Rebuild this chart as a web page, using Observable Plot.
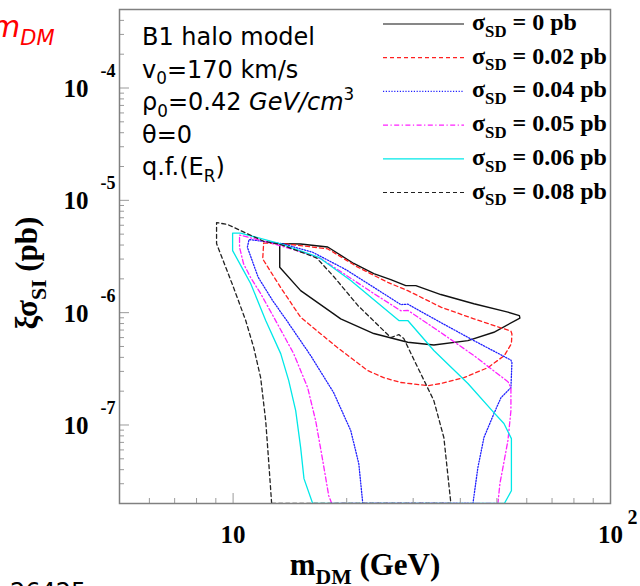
<!DOCTYPE html>
<html>
<head>
<meta charset="utf-8">
<script src="https://cdn.jsdelivr.net/npm/d3@7"></script>
<script src="https://cdn.jsdelivr.net/npm/@observablehq/plot@0.6"></script>
<style>
  html, body { margin: 0; padding: 0; background: #fff; }
  #chart { position: relative; width: 640px; height: 586px; overflow: hidden; }
  #chart svg { position: absolute; left: 0; top: 0; }
</style>
</head>
<body>
<div id="chart"></div>
<script>
// Allowed regions in the (m_DM [GeV], xi*sigma_SI [pb]) plane, one closed contour per sigma_SD
const sd000 = [[13.29,4.12e-6],[15.10,4.08e-6],[17.81,3.84e-6],[20.88,2.74e-6],[23.59,2.23e-6],[26.17,1.97e-6],[28.68,1.74e-6],[30.49,1.74e-6],[35.52,1.45e-6],[43.45,1.20e-6],[53.48,1.01e-6],[57.35,9.42e-7],[57.54,8.95e-7],[49.09,6.69e-7],[41.90,5.64e-7],[34.03,5.15e-7],[29.03,5.45e-7],[23.59,6.52e-7],[19.28,8.81e-7],[18.47,9.75e-7],[15.10,1.57e-6],[13.29,2.54e-6],[13.29,4.12e-6]];
const sd002 = [[12.05,4.17e-6],[13.95,4.08e-6],[17.81,3.70e-6],[21.40,2.54e-6],[25.70,1.86e-6],[29.03,1.57e-6],[35.52,1.12e-6],[43.45,8.81e-7],[54.47,6.85e-7],[54.80,6.45e-7],[54.63,5.30e-7],[52.33,4.15e-7],[47.33,3.24e-7],[40.89,2.64e-7],[35.52,2.34e-7],[32.81,2.24e-7],[27.82,2.39e-7],[25.06,2.64e-7],[22.74,3.05e-7],[18.82,4.94e-7],[15.10,9.10e-7],[13.37,1.67e-6],[11.98,3.01e-6],[12.05,4.17e-6]];
const sd004 = [[22.06,2e-8],[21.53,4.53e-8],[20.50,8.91e-8],[18.47,1.94e-7],[16.05,4.15e-7],[13.87,8.51e-7],[12.73,1.28e-6],[11.65,2.07e-6],[10.91,3.82e-6],[11.02,4.48e-6],[13.53,4.10e-6],[16.25,3.45e-6],[19.88,2.42e-6],[23.59,1.68e-6],[27.82,1.18e-6],[29.03,1.19e-6],[35.52,8.16e-7],[43.45,5.64e-7],[54.47,3.78e-7],[54.80,3.59e-7],[54.47,2.15e-7],[51.25,1.75e-7],[49.09,1.26e-7],[46.19,7.72e-8],[44.52,4.17e-8],[43.20,2e-8],[22.06,2e-8]];
const sd005 = [[18.25,2e-8],[17.92,2.35e-8],[17.28,4.82e-8],[16.55,1.09e-7],[15.76,2.15e-7],[14.47,4.32e-7],[13.05,8.16e-7],[11.83,1.48e-6],[11.13,2.05e-6],[10.66,2.72e-6],[10.40,3.82e-6],[10.40,4.91e-6],[12.35,4.24e-6],[15.10,3.50e-6],[17.07,3.03e-6],[19.28,2.32e-6],[23.59,1.48e-6],[27.82,1.04e-6],[29.03,1.05e-6],[35.52,6.65e-7],[43.45,4.15e-7],[53.48,2.43e-7],[54.47,2.15e-7],[54.47,1.34e-7],[53.48,7.26e-8],[51.87,4.17e-8],[50.93,3.01e-8],[50.31,2e-8],[18.25,2e-8]];
const sd006 = [[16.25,2e-8],[15.41,3.33e-8],[15.10,6.29e-8],[14.65,1.34e-7],[14.04,2.48e-7],[13.37,4.32e-7],[12.20,8.51e-7],[11.13,1.82e-6],[10.66,2.37e-6],[9.97,3.57e-6],[9.97,5.11e-6],[10.47,5.11e-6],[13.37,4.10e-6],[16.86,3.11e-6],[20.50,1.93e-6],[27.49,8.51e-7],[29.03,8.51e-7],[34.03,4.60e-7],[41.90,2.34e-7],[49.09,1.29e-7],[52.20,1.03e-7],[54.63,7.56e-8],[54.63,2.60e-8],[52.33,2e-8],[16.25,2e-8]];
const sd008 = [[12.65,2e-8],[12.42,4.82e-8],[12.20,1.09e-7],[11.83,2.64e-7],[11.34,4.89e-7],[10.80,8.51e-7],[10.03,1.67e-6],[9.04,4.12e-6],[9.04,6.34e-6],[9.67,6.09e-6],[10.47,5.38e-6],[12.05,4.32e-6],[13.37,4.04e-6],[16.05,3.22e-6],[16.66,3.06e-6],[18.47,2.10e-6],[21.40,1.16e-6],[26.17,6.00e-7],[27.49,6.38e-7],[28.33,5.88e-7],[30.86,3.24e-7],[34.03,1.65e-7],[36.18,7.72e-8],[37.76,2e-8],[12.65,2e-8]];

const sdLabels = ["0", "0.02", "0.04", "0.05", "0.06", "0.08"];
const sdContours = [sd000, sd002, sd004, sd005, sd006, sd008];

// Line styles for each sigma_SD
const sdColors = ["#111111", "#ff2020", "#2020ff", "#ff20ff", "#00e8e8", "#222222"];
const sdDashes = [null, "4,3", "1.2,1.6", "5,2.5,1.2,2.5", null, "4,3"];
const sdWidths = [1.4, 1.3, 1.3, 1.3, 1.3, 1.3];

// Axis ticks
const xMajorTicks = [10, 100];
const xMajorText = ["10", "10"];
const xMajorExp = ["", "2"];
const xMinorTicks = [6, 7, 8, 9, 20, 30, 40, 50, 60, 70, 80, 90];
const yMajorTicks = [1e-7, 1e-6, 1e-5, 1e-4];
const yMajorExp = ["-7", "-6", "-5", "-4"];
const yMinorTicks = [2e-8,3e-8,4e-8,5e-8,6e-8,7e-8,8e-8,9e-8,2e-7,3e-7,4e-7,5e-7,6e-7,7e-7,8e-7,9e-7,2e-6,3e-6,4e-6,5e-6,6e-6,7e-6,8e-6,9e-6,2e-5,3e-5,4e-5,5e-5,6e-5,7e-5,8e-5,9e-5,2e-4,3e-4,4e-4];

const W = 640, H = 586;
const mTop = 9, mRight = 30, mBottom = 83, mLeft = 119;
const innerW = W - mLeft - mRight;
const innerH = H - mTop - mBottom;
const serif = "'Liberation Serif', 'DejaVu Serif', serif";
const sans = "'DejaVu Sans', 'Liberation Sans', sans-serif";

const rows = sdContours.flatMap((pts, i) => pts.map(([m, s]) => ({sd: sdLabels[i], m, s})));

const lineMarks = sdLabels.map((lab, i) =>
  Plot.line(rows.filter(d => d.sd === lab), {
    x: "m", y: "s",
    stroke: sdColors[i], strokeWidth: sdWidths[i],
    strokeDasharray: sdDashes[i] ?? undefined,
    clip: true
  })
);

const tickStroke = "#9a9a9a";
const chart = Plot.plot({
  width: W, height: H,
  marginTop: mTop, marginRight: mRight, marginBottom: mBottom, marginLeft: mLeft,
  x: {type: "log", domain: [5, 100], axis: null},
  y: {type: "log", domain: [2e-8, 5e-4], axis: null},
  style: {background: "transparent", overflow: "visible"},
  marks: [
    ...lineMarks,
    Plot.ruleY(yMinorTicks, {y: d => d, insetRight: innerW - 5, stroke: tickStroke}),
    Plot.ruleY(yMajorTicks, {y: d => d, insetRight: innerW - 10, stroke: tickStroke}),
    Plot.ruleX(xMinorTicks, {x: d => d, insetTop: innerH - 5, stroke: tickStroke}),
    Plot.ruleX(xMajorTicks, {x: d => d, insetTop: innerH - 10, stroke: tickStroke}),
    Plot.frame({stroke: "#808080", strokeWidth: 1.5}),
    Plot.text(yMajorTicks, {y: d => d, frameAnchor: "left", text: () => "10",
      textAnchor: "end", lineAnchor: "bottom", dx: -31, dy: 9,
      fontSize: 25, fontWeight: "bold", fontFamily: serif, fill: "#000"}),
    Plot.text(yMajorTicks, {y: d => d, frameAnchor: "left", text: (d, i) => yMajorExp[i],
      textAnchor: "start", lineAnchor: "bottom", dx: -19, dy: -11,
      fontSize: 18, fontWeight: "bold", fontFamily: serif, fill: "#000"}),
    Plot.text(xMajorTicks, {x: d => d, frameAnchor: "bottom", text: (d, i) => xMajorText[i],
      textAnchor: "middle", lineAnchor: "bottom", dy: 39,
      fontSize: 25, fontWeight: "bold", fontFamily: serif, fill: "#000"}),
    Plot.text(xMajorTicks, {x: d => d, frameAnchor: "bottom", text: (d, i) => xMajorExp[i],
      textAnchor: "start", lineAnchor: "bottom", dx: 17, dy: 20,
      fontSize: 20, fontWeight: "bold", fontFamily: serif, fill: "#000"})
  ]
});
document.getElementById("chart").appendChild(chart);

// Annotation layer: titles, model parameters and legend
const svg = d3.select("#chart").append("svg").attr("width", W).attr("height", H);

function rich(parent, x, y, parts, style) {
  const t = parent.append("text").attr("x", x).attr("y", y)
    .attr("font-family", style.family).attr("font-size", style.size)
    .attr("font-weight", style.weight || "normal").attr("fill", style.fill || "#000");
  if (style.anchor) t.attr("text-anchor", style.anchor);
  if (style.transform) t.attr("transform", style.transform);
  let shift = 0;
  for (const p of parts) {
    const target = p.sub ? style.size * 0.28 : p.sup ? -style.size * 0.4 : 0;
    const ts = t.append("tspan").text(p.t).attr("dy", target - shift);
    if (p.sub || p.sup) ts.attr("font-size", style.size * 0.7);
    if (p.italic) ts.attr("font-style", "italic");
    shift = target;
  }
  return t;
}

// Model parameters
const info = [
  [{t: "B1 halo model"}],
  [{t: "v"}, {t: "0", sub: true}, {t: "=170 km/s"}],
  [{t: "\u03c1"}, {t: "0", sub: true}, {t: "=0.42 "}, {t: "GeV/cm", italic: true}, {t: "3", sup: true}],
  [{t: "\u03b8=0"}],
  [{t: "q.f.(E"}, {t: "R", sub: true}, {t: ")"}]
];
info.forEach((parts, i) => rich(svg, 142, 45 + i * 32.5, parts, {family: sans, size: 24}));

// Legend
const legend = svg.append("g");
sdLabels.forEach((lab, i) => {
  const yy = 24 + i * 33.7;
  legend.append("line").attr("x1", 383).attr("x2", 464).attr("y1", yy).attr("y2", yy)
    .attr("stroke", sdColors[i]).attr("stroke-width", 1.2)
    .attr("stroke-dasharray", sdDashes[i]);
  rich(legend, 472, yy + 6,
    [{t: "\u03c3"}, {t: "SD", sub: true}, {t: " = " + lab + " pb"}],
    {family: serif, size: 24, weight: "bold"});
});

// Axis titles
rich(svg, 365, 575, [{t: "m"}, {t: "DM", sub: true}, {t: " (GeV)"}],
  {family: serif, size: 31, weight: "bold", anchor: "middle"});
rich(svg, 0, 0, [{t: "\u03be\u03c3"}, {t: "SI", sub: true}, {t: " (pb)"}],
  {family: serif, size: 31, weight: "bold", anchor: "middle", transform: "translate(37,273) rotate(-90)"});

// Edge labels
rich(svg, -9, 37, [{t: "m"}, {t: "DM", sub: true}], {family: sans, size: 30, fill: "#ff0000"})
  .attr("font-style", "italic");
rich(svg, 10, 600, [{t: "26425"}], {family: sans, size: 24});
</script>
</body>
</html>
